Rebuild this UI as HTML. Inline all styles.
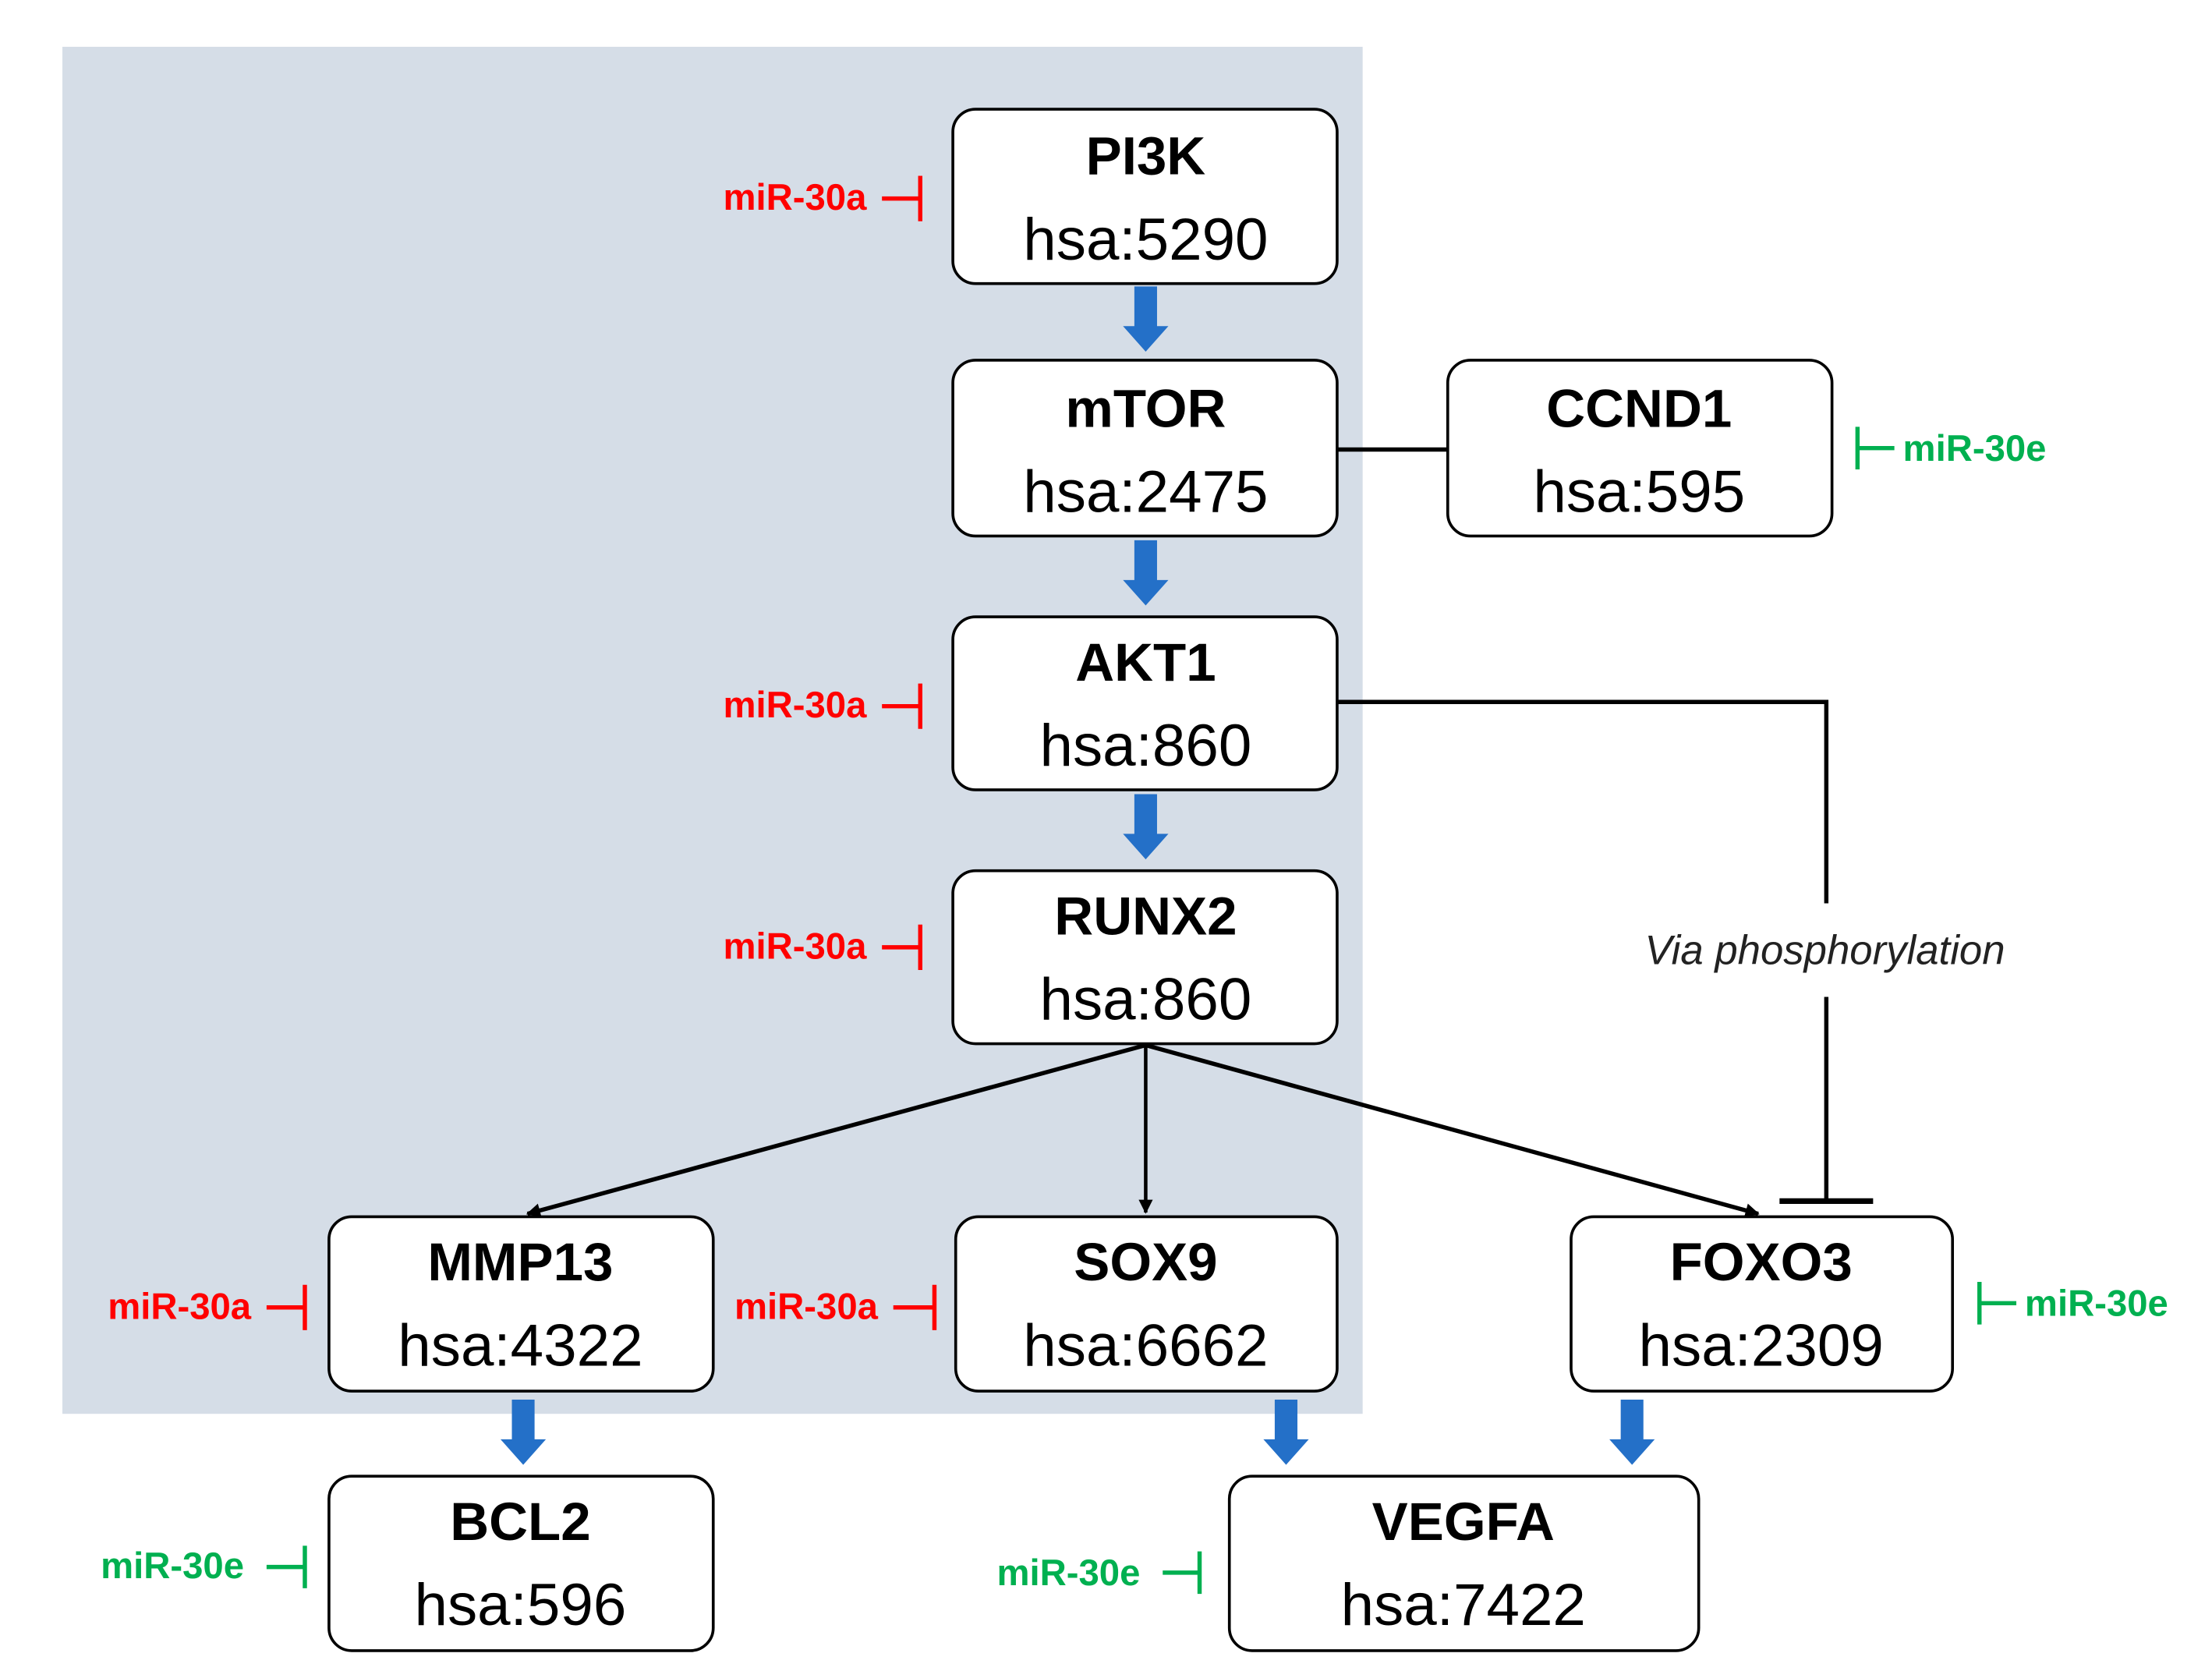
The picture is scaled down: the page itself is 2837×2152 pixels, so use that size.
<!DOCTYPE html>
<html><head><meta charset="utf-8"><style>
html,body{margin:0;padding:0;background:#fff;}
svg{display:block;}
.t{font-family:"Liberation Sans",sans-serif;font-weight:bold;font-size:38px;fill:#000;text-anchor:middle;}
.h{font-family:"Liberation Sans",sans-serif;font-size:42px;fill:#000;text-anchor:middle;}
.r{font-family:"Liberation Sans",sans-serif;font-weight:bold;font-size:26px;fill:#ff0000;}
.g{font-family:"Liberation Sans",sans-serif;font-weight:bold;font-size:26px;fill:#00b050;}
</style></head><body>
<svg width="2837" height="2152" viewBox="0 0 1560 1183.3" preserveAspectRatio="none" xmlns="http://www.w3.org/2000/svg">
<defs>
<marker id="ah" markerWidth="10" markerHeight="10" refX="9" refY="5" orient="auto" markerUnits="userSpaceOnUse" viewBox="0 0 10 10">
<path d="M0,0 L10,5 L0,10 Z" fill="#000"/></marker>
<g id="ba"><path d="M-8,0 H8 V28 H16 L0,46 L-16,28 H-8 Z" fill="#2470c8"/></g>
</defs>
<rect x="44" y="33" width="917" height="964" fill="#d5dde7"/>

<!-- connectors -->
<line x1="943" y1="317" x2="1021" y2="317" stroke="#000" stroke-width="3"/>
<polyline points="940,495 1288,495 1288,637" fill="none" stroke="#000" stroke-width="3"/>
<line x1="1288" y1="703" x2="1288" y2="847" stroke="#000" stroke-width="3"/>
<line x1="1255" y1="847" x2="1321" y2="847" stroke="#000" stroke-width="4"/>
<text x="1287" y="680" font-family="Liberation Sans,sans-serif" font-style="italic" font-size="29" text-anchor="middle" fill="#222">Via phosphorylation</text>
<line x1="808" y1="737" x2="372" y2="856" stroke="#000" stroke-width="3" marker-end="url(#ah)"/>
<line x1="808" y1="737" x2="808" y2="855" stroke="#000" stroke-width="2.5" marker-end="url(#ah)"/>
<line x1="808" y1="737" x2="1240" y2="856" stroke="#000" stroke-width="3" marker-end="url(#ah)"/>

<!-- blue arrows -->
<use href="#ba" x="808" y="202"/>
<use href="#ba" x="808" y="381"/>
<use href="#ba" x="808" y="560"/>
<use href="#ba" x="369" y="987"/>
<use href="#ba" x="907" y="987"/>
<use href="#ba" x="1151" y="987"/>

<!-- boxes -->
<g fill="#fff" stroke="#000" stroke-width="2">
<rect x="672" y="77" width="271" height="123" rx="16"/>
<rect x="672" y="254" width="271" height="124" rx="16"/>
<rect x="1021" y="254" width="271" height="124" rx="16"/>
<rect x="672" y="435" width="271" height="122" rx="16"/>
<rect x="672" y="614" width="271" height="122" rx="16"/>
<rect x="232" y="858" width="271" height="123" rx="16"/>
<rect x="674" y="858" width="269" height="123" rx="16"/>
<rect x="1108" y="858" width="269" height="123" rx="16"/>
<rect x="232" y="1041" width="271" height="123" rx="16"/>
<rect x="867" y="1041" width="331" height="123" rx="16"/>
</g>
<text class="t" x="808" y="123">PI3K</text><text class="h" x="808" y="183">hsa:5290</text>
<text class="t" x="808" y="301">mTOR</text><text class="h" x="808" y="361">hsa:2475</text>
<text class="t" x="1156" y="301">CCND1</text><text class="h" x="1156" y="361">hsa:595</text>
<text class="t" x="808" y="480">AKT1</text><text class="h" x="808" y="540">hsa:860</text>
<text class="t" x="808" y="659">RUNX2</text><text class="h" x="808" y="719">hsa:860</text>
<text class="t" x="367" y="903">MMP13</text><text class="h" x="367" y="963">hsa:4322</text>
<text class="t" x="808" y="903">SOX9</text><text class="h" x="808" y="963">hsa:6662</text>
<text class="t" x="1242" y="903">FOXO3</text><text class="h" x="1242" y="963">hsa:2309</text>
<text class="t" x="367" y="1086">BCL2</text><text class="h" x="367" y="1146">hsa:596</text>
<text class="t" x="1032" y="1086">VEGFA</text><text class="h" x="1032" y="1146">hsa:7422</text>

<!-- miRNA red -->
<g stroke="#ff0000" stroke-width="3" fill="none">
<path d="M622,140 H649 M649,124 V156"/>
<path d="M622,498 H649 M649,482 V514"/>
<path d="M622,668 H649 M649,652 V684"/>
<path d="M188,922 H215 M215,906 V938"/>
<path d="M630,922 H659 M659,906 V938"/>
</g>
<text class="r" x="510" y="148">miR-30a</text>
<text class="r" x="510" y="506">miR-30a</text>
<text class="r" x="510" y="676">miR-30a</text>
<text class="r" x="76" y="930">miR-30a</text>
<text class="r" x="518" y="930">miR-30a</text>
<!-- miRNA green -->
<g stroke="#00b050" stroke-width="3" fill="none">
<path d="M1310,301 V331 M1310,316 H1336"/>
<path d="M1396,904 V934 M1396,919 H1422"/>
<path d="M188,1105 H215 M215,1090 V1120"/>
<path d="M820,1109 H846 M846,1094 V1124"/>
</g>
<text class="g" x="1342" y="325">miR-30e</text>
<text class="g" x="1428" y="928">miR-30e</text>
<text class="g" x="71" y="1113">miR-30e</text>
<text class="g" x="703" y="1118">miR-30e</text>
</svg>
</body></html>
